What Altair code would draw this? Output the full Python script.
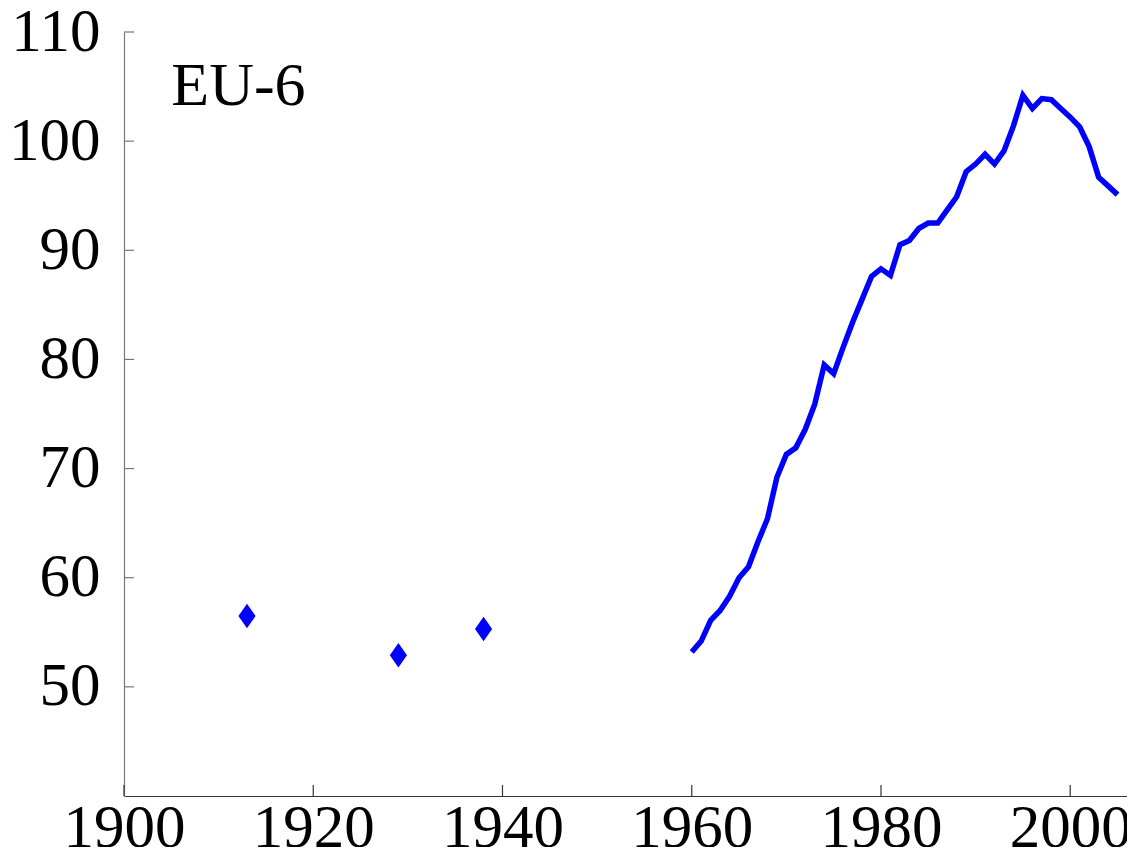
import altair as alt
import pandas as pd

# Data
line_years = list(range(1960, 2006))
line_values = [53.2, 54.2, 56.1, 57.0, 58.3, 60.0, 61.0, 63.3, 65.4, 69.2,
               71.3, 71.9, 73.6, 75.9, 79.5, 78.7, 81.1, 83.4, 85.5, 87.6,
               88.3, 87.7, 90.5, 90.9, 92.0, 92.5, 92.5, 93.7, 94.9, 97.2,
               97.9, 98.8, 97.9, 99.1, 101.4, 104.2, 103.0, 103.9, 103.8, 103.0,
               102.2, 101.3, 99.5, 96.7, 95.9, 95.1]
point_years = [1913, 1929, 1938]
point_values = [56.5, 52.9, 55.3]
x_ticks = [1900, 1920, 1940, 1960, 1980, 2000]
y_ticks = [50, 60, 70, 80, 90, 100, 110]
label_text = ["EU-6"]
label_year = [1905.0]
label_value = [103.3]

W, H = 1003, 764
FONT = "Liberation Serif"
BLUE = "#0000ff"

line_df = pd.DataFrame({"year": line_years, "value": line_values})
pt_df = pd.DataFrame({"year": point_years, "value": point_values})
xt_df = pd.DataFrame({"year": x_ticks})
yt_df = pd.DataFrame({"value": y_ticks})
lab_df = pd.DataFrame({"t": label_text, "year": label_year, "value": label_value})

xscale = alt.Scale(domain=[1900, 2006], nice=False, zero=False)
yscale = alt.Scale(domain=[40, 110], nice=False, zero=False)

xaxis = alt.Axis(values=x_ticks, format="d", tickSize=0, grid=False, domainColor="#333333",
                 domainWidth=1.2, labelFont=FONT, labelFontSize=61, labelColor="black",
                 labelPadding=2, title=None, labelFlush=False)
yaxis = alt.Axis(values=y_ticks, format="d", tickSize=0, grid=False, domainColor="#777777",
                 domainWidth=1.2, labelFont=FONT, labelFontSize=61, labelColor="black",
                 labelPadding=24, title=None, labelFlush=False)

base_line = alt.Chart(line_df).mark_line(color=BLUE, strokeWidth=5.5, strokeJoin="miter").encode(
    x=alt.X("year:Q", scale=xscale, axis=xaxis),
    y=alt.Y("value:Q", scale=yscale, axis=yaxis),
)

points = alt.Chart(pt_df).mark_point(
    shape="M0,-1L0.7,0L0,1L-0.7,0Z", size=600, filled=True, color=BLUE, opacity=1
).encode(x=alt.X("year:Q", scale=xscale), y=alt.Y("value:Q", scale=yscale))

xt = alt.Chart(xt_df).mark_rule(color="#333333", strokeWidth=1.2).encode(
    x=alt.X("year:Q", scale=xscale), y=alt.value(H), y2=alt.value(H - 11)
)
yt = alt.Chart(yt_df).mark_rule(color="#777777", strokeWidth=1.2).encode(
    y=alt.Y("value:Q", scale=yscale), x=alt.value(0), x2=alt.value(10)
)

label = alt.Chart(lab_df).mark_text(
    font=FONT, fontSize=62, align="left", baseline="alphabetic", color="black"
).encode(x=alt.X("year:Q", scale=xscale), y=alt.Y("value:Q", scale=yscale), text="t:N")

chart = alt.layer(xt, yt, base_line, points, label).properties(
    width=W, height=H,
    autosize=alt.AutoSizeParams(type="none"),
    padding={"left": 116, "top": 24, "right": 0, "bottom": 51},
    background="white",
).configure_view(strokeWidth=0)

chart.save("out.html", embed_options={"renderer": "svg", "actions": False})
